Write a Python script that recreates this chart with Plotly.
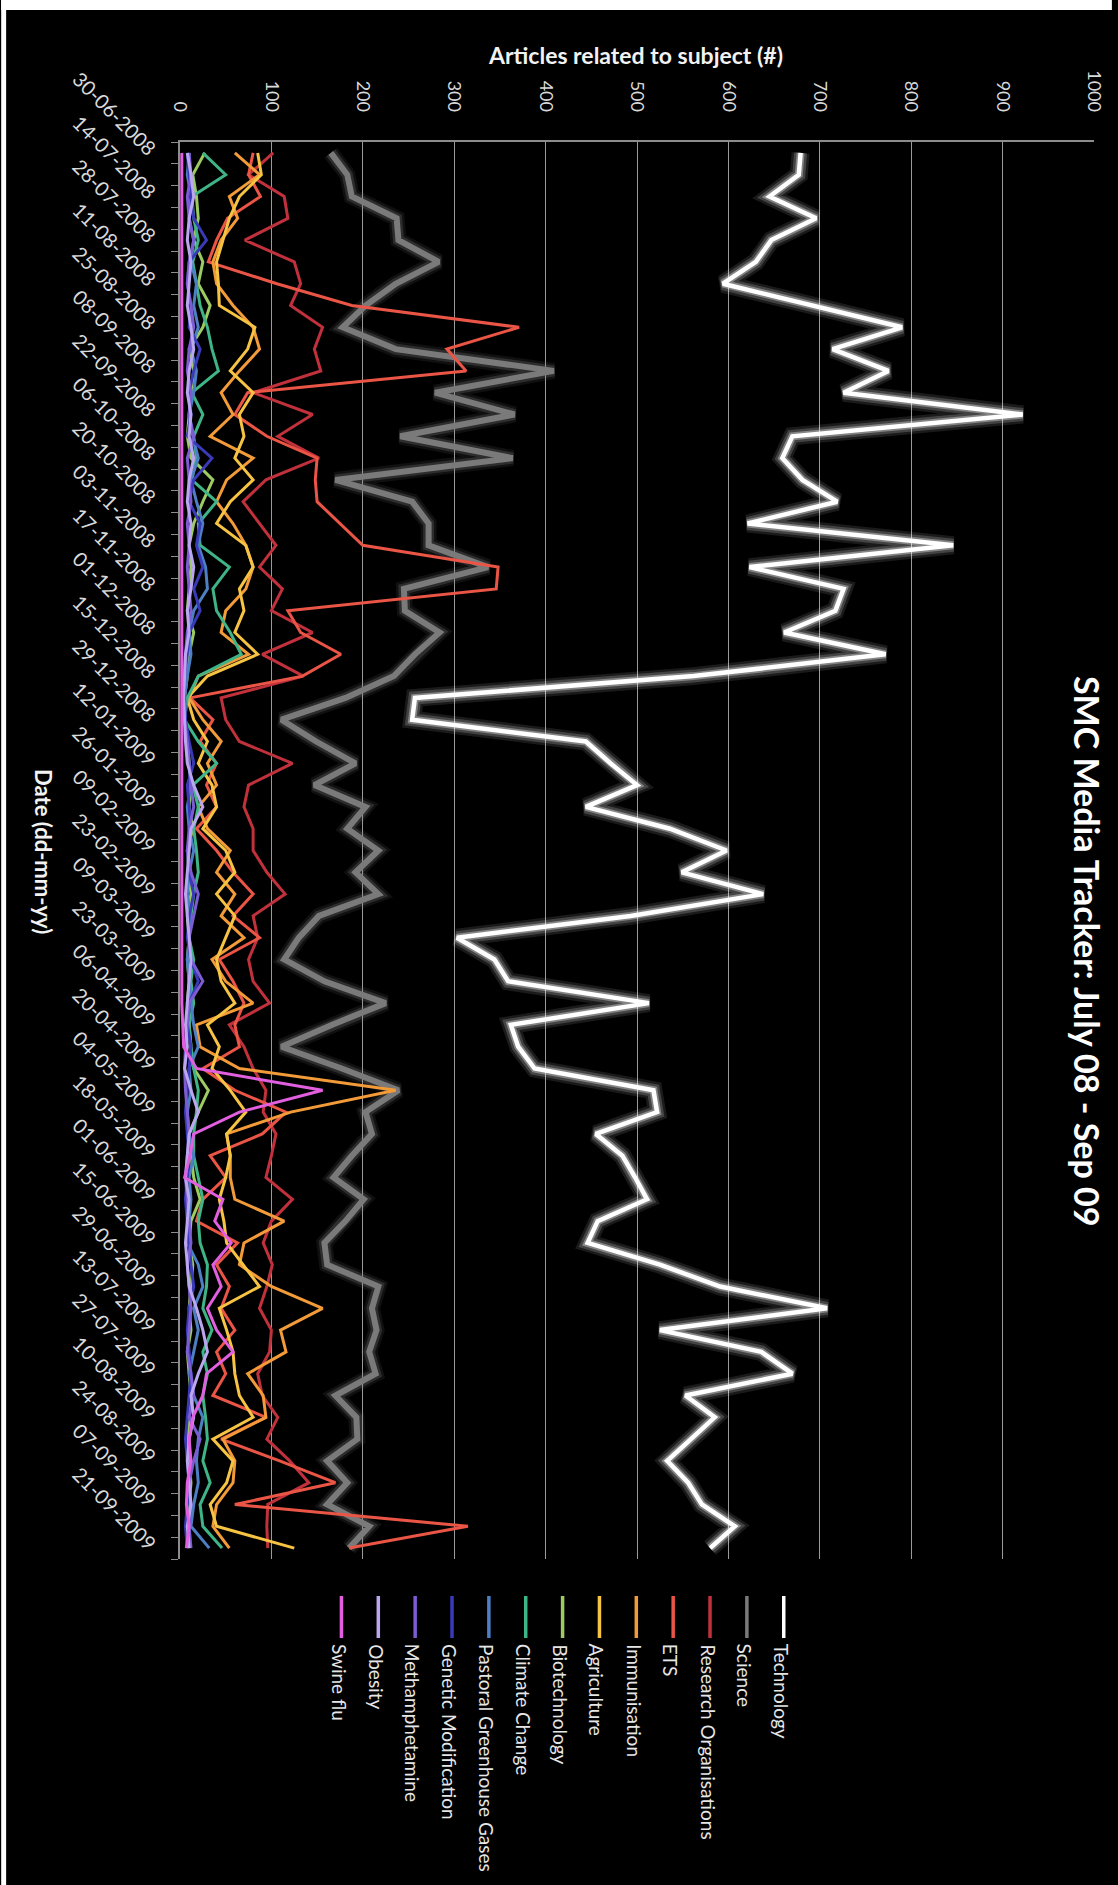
import pandas as pd
import plotly.graph_objects as go

# ---- data -------------------------------------------------------------
# weekly observations, 30-06-2008 .. 21-09-2009
dates = pd.date_range("2008-06-30", periods=65, freq="7D")
date_ticks = dates[::2]
date_labels = [d.strftime("%d-%m-%Y") for d in date_ticks]
value_ticks = [0, 100, 200, 300, 400, 500, 600, 700, 800, 900, 1000]

technology = [679, 677, 645, 696, 647, 630, 594, 692, 790, 714, 775, 726, 922, 670, 659, 681,
              719, 621, 846, 623, 726, 717, 661, 772, 562, 257, 254, 444, 471, 500, 444, 536,
              598, 549, 638, 493, 303, 344, 359, 513, 362, 370, 388, 518, 522, 455, 484, 498,
              511, 457, 446, 525, 591, 708, 525, 636, 670, 553, 585, 559, 533, 556, 571, 607, 580]
science = [165, 183, 188, 237, 239, 283, 236, 203, 178, 236, 409, 279, 366, 241, 364, 170,
           254, 272, 272, 337, 245, 246, 284, 257, 234, 181, 111, 149, 192, 147, 203, 183,
           217, 192, 217, 152, 130, 114, 158, 225, 166, 111, 177, 239, 203, 210, 188, 168,
           201, 181, 158, 161, 217, 210, 215, 207, 214, 170, 193, 194, 161, 183, 161, 207, 185]
research_orgs = [102, 75, 114, 118, 71, 125, 132, 121, 156, 147, 154, 80, 145, 107, 152, 94,
                 69, 87, 105, 87, 112, 100, 145, 90, 135, 45, 50, 65, 123, 75, 70, 80,
                 80, 95, 115, 80, 85, 75, 80, 98, 54, 70, 80, 94, 91, 105, 100, 94,
                 123, 100, 91, 101, 95, 87, 100, 98, 85, 90, 107, 95, 120, 141, 96, 95, 96]
ets = [80, 75, 88, 52, 40, 31, 106, 188, 371, 292, 313, 74, 60, 95, 150, 148,
       150, 175, 200, 348, 346, 118, 132, 176, 134, 11, 36, 22, 40, 29, 40, 18,
       40, 58, 80, 58, 87, 43, 58, 70, 60, 65, 25, 60, 116, 90, 33, 50,
       25, 18, 63, 40, 54, 45, 60, 40, 50, 36, 94, 45, 109, 170, 60, 315, 185]
immunisation = [60, 87, 54, 63, 45, 36, 40, 58, 80, 87, 65, 45, 58, 33, 80, 51,
                40, 58, 72, 80, 72, 50, 45, 75, 20, 10, 25, 45, 30, 40, 20, 30,
                55, 40, 60, 45, 70, 35, 50, 80, 18, 22, 65, 236, 121, 51, 55, 55,
                60, 114, 70, 65, 100, 156, 110, 116, 74, 91, 94, 47, 60, 58, 40, 36, 54]
agriculture = [85, 89, 65, 54, 47, 40, 42, 43, 82, 74, 55, 80, 65, 70, 60, 80,
               55, 40, 72, 80, 65, 70, 60, 85, 30, 8, 15, 30, 20, 35, 40, 25,
               50, 60, 40, 60, 50, 40, 45, 60, 30, 43, 35, 55, 72, 51, 55, 50,
               43, 48, 51, 69, 87, 43, 51, 58, 60, 65, 80, 36, 58, 51, 33, 40, 125]
biotechnology = [27, 14, 18, 20, 15, 25, 20, 33, 25, 10, 15, 12, 10, 8, 12, 36,
                 25, 15, 10, 12, 10, 8, 15, 10, 8, 5, 5, 8, 10, 12, 10, 14,
                 8, 10, 12, 8, 10, 8, 10, 8, 10, 12, 15, 31, 20, 10, 12, 15,
                 22, 12, 10, 14, 12, 10, 12, 8, 10, 12, 10, 8, 10, 12, 10, 8, 10]
climate_change = [25, 50, 13, 15, 20, 14, 18, 22, 30, 35, 42, 13, 25, 15, 18, 13,
                  40, 20, 22, 54, 36, 40, 55, 67, 20, 8, 5, 20, 40, 14, 20, 15,
                  18, 20, 15, 12, 10, 15, 12, 15, 10, 12, 15, 20, 18, 15, 15, 20,
                  25, 20, 22, 30, 29, 25, 35, 25, 30, 25, 28, 30, 25, 33, 22, 25, 46]
pastoral_ghg = [10, 8, 12, 10, 15, 12, 18, 15, 20, 12, 18, 15, 10, 14, 20, 12,
                18, 25, 20, 28, 30, 15, 10, 12, 8, 5, 6, 8, 10, 12, 8, 10,
                15, 10, 8, 12, 10, 8, 10, 12, 15, 20, 10, 12, 8, 10, 15, 10,
                12, 10, 8, 20, 25, 15, 20, 15, 10, 15, 25, 20, 18, 20, 15, 12, 32]
genetic_mod = [8, 10, 12, 15, 29, 10, 8, 12, 10, 22, 15, 10, 12, 8, 35, 15,
               10, 22, 18, 25, 15, 22, 10, 8, 5, 5, 6, 10, 15, 8, 10, 12,
               8, 10, 15, 10, 8, 12, 20, 10, 8, 12, 10, 8, 6, 8, 10, 8,
               6, 8, 10, 12, 15, 10, 8, 10, 12, 10, 8, 6, 8, 10, 8, 6, 8]
methamphetamine = [10, 12, 8, 10, 15, 10, 8, 12, 15, 10, 8, 12, 10, 15, 8, 10,
                   12, 8, 10, 8, 10, 12, 8, 6, 5, 4, 5, 8, 10, 12, 15, 10,
                   8, 12, 20, 15, 10, 12, 25, 10, 8, 6, 5, 6, 8, 10, 8, 6,
                   8, 10, 12, 8, 10, 12, 10, 8, 12, 15, 10, 22, 15, 10, 12, 10, 12]
obesity = [8, 12, 15, 10, 8, 12, 10, 8, 12, 15, 10, 8, 12, 10, 15, 10,
           8, 12, 10, 15, 12, 8, 10, 6, 5, 4, 5, 6, 8, 15, 25, 12,
           10, 8, 6, 8, 10, 12, 10, 8, 6, 8, 5, 12, 20, 10, 8, 6,
           10, 8, 6, 8, 10, 18, 25, 30, 20, 12, 15, 10, 8, 10, 12, 8, 10]
swine_flu = [2, 2, 2, 2, 2, 2, 2, 2, 2, 2, 2, 2, 2, 2, 2, 2,
             2, 2, 2, 2, 2, 2, 2, 2, 2, 2, 2, 2, 2, 2, 2, 2,
             2, 2, 2, 2, 2, 2, 2, 2, 3, 4, 18, 156, 65, 15, 11, 5,
             47, 38, 56, 36, 45, 30, 40, 58, 29, 25, 14, 10, 12, 8, 7, 10, 7]

series = [
    ("Technology", technology, "#ffffff"),
    ("Science", science, "#7a7a7a"),
    ("Research Organisations", research_orgs, "#c0313c"),
    ("ETS", ets, "#ea5545"),
    ("Immunisation", immunisation, "#f29b38"),
    ("Agriculture", agriculture, "#f6c343"),
    ("Biotechnology", biotechnology, "#9ccb62"),
    ("Climate Change", climate_change, "#3fb487"),
    ("Pastoral Greenhouse Gases", pastoral_ghg, "#4d7fc4"),
    ("Genetic Modification", genetic_mod, "#3a3ab8"),
    ("Methamphetamine", methamphetamine, "#7c5cd3"),
    ("Obesity", obesity, "#bba7ef"),
    ("Swine flu", swine_flu, "#e25fe0"),
]

# ---- page geometry (pixels) ------------------------------------------
W, H = 1118, 1885
ML, MR, MT, MB = 180, 18, 142, 326
PW, PH = W - ML - MR, H - MT - MB


def px(xp):
    return (xp - ML) / PW


def py(yp):
    return 1 - (yp - MT) / PH


FONT = "Lato, Open Sans, sans-serif"

fig = go.Figure()

# glow underlays for the two leading series
for width, alpha in [(18, 0.10), (13, 0.18), (8, 0.35)]:
    fig.add_trace(go.Scatter(x=technology, y=dates, mode="lines",
                             line=dict(color=f"rgba(255,255,255,{alpha})", width=width),
                             hoverinfo="skip", showlegend=False))
for width, alpha in [(16, 0.12), (11, 0.25)]:
    fig.add_trace(go.Scatter(x=science, y=dates, mode="lines",
                             line=dict(color=f"rgba(130,130,130,{alpha})", width=width),
                             hoverinfo="skip", showlegend=False))

for name, vals, color in series:
    w = 3
    if name == "Technology":
        w = 4.5
    elif name == "Science":
        w = 6
    fig.add_trace(go.Scatter(x=vals, y=dates, mode="lines", name=name,
                             line=dict(color=color, width=w), showlegend=False))

shapes = [
    # white border strips along the top and left edges
    dict(type="rect", xref="paper", yref="paper", x0=px(0), x1=px(W), y0=py(0), y1=py(10),
         fillcolor="white", line=dict(width=0), layer="above"),
    dict(type="rect", xref="paper", yref="paper", x0=px(0), x1=px(5), y0=py(0), y1=py(H),
         fillcolor="white", line=dict(width=0), layer="above"),
]
annotations = []

# hand-built legend (entries rotated like the rest of the chart)
for k, (name, vals, color) in enumerate(series):
    xc = 787.7 - 37.1 * k
    shapes.append(dict(type="line", xref="paper", yref="paper",
                       x0=px(xc), x1=px(xc), y0=py(1596), y1=py(1638),
                       line=dict(color=color, width=3.5)))
    annotations.append(dict(text=name, textangle=90, x=px(xc - 2), y=py(1642),
                            xref="paper", yref="paper", xanchor="center", yanchor="top",
                            showarrow=False, font=dict(family=FONT, size=19, color="#e6e6e6")))

annotations.append(dict(text="<b>SMC Media Tracker: July 08 - Sep 09</b>", textangle=90,
                        x=px(1094), y=py(951), xref="paper", yref="paper",
                        xanchor="center", yanchor="middle", showarrow=False,
                        font=dict(family=FONT, size=34, color="white")))
annotations.append(dict(text="<b>Articles related to subject (#)</b>",
                        x=px(638), y=py(55), xref="paper", yref="paper",
                        xanchor="center", yanchor="middle", showarrow=False,
                        font=dict(family=FONT, size=23, color="#f2f2f2")))
annotations.append(dict(text="<b>Date (dd-mm-yy)</b>", textangle=90,
                        x=px(43), y=py(852), xref="paper", yref="paper",
                        xanchor="center", yanchor="middle", showarrow=False,
                        font=dict(family=FONT, size=22, color="#f2f2f2")))

fig.update_layout(
    width=W, height=H,
    margin=dict(l=ML, r=MR, t=MT, b=MB, pad=0),
    paper_bgcolor="black", plot_bgcolor="black",
    font=dict(family=FONT, color="#d9d9d9"),
    showlegend=False,
    shapes=shapes, annotations=annotations,
    xaxis=dict(side="top", range=[0, 1000], tickvals=value_ticks, tickangle=90,
               showgrid=True, gridcolor="#9a9a9a", gridwidth=1, zeroline=False,
               showline=True, linecolor="#8c8c8c", linewidth=1.5,
               ticks="", ticklabelstandoff=22,
               tickfont=dict(family=FONT, size=18, color="#d9d9d9")),
    yaxis=dict(type="date",
               range=["2009-09-24 12:00", "2008-06-26 12:00"],
               tickvals=list(date_ticks), ticktext=date_labels, tickangle=45,
               showgrid=False, zeroline=False,
               showline=True, linecolor="#8c8c8c", linewidth=1.5,
               ticks="", ticklabelstandoff=20,
               minor=dict(ticks="outside", ticklen=7, tickcolor="#8c8c8c", tickwidth=1,
                          tick0="2008-06-26 12:00", dtick=7 * 86400000, showgrid=False),
               tickfont=dict(family=FONT, size=20, color="#d9d9d9")),
)

fig.write_html("out.html")
